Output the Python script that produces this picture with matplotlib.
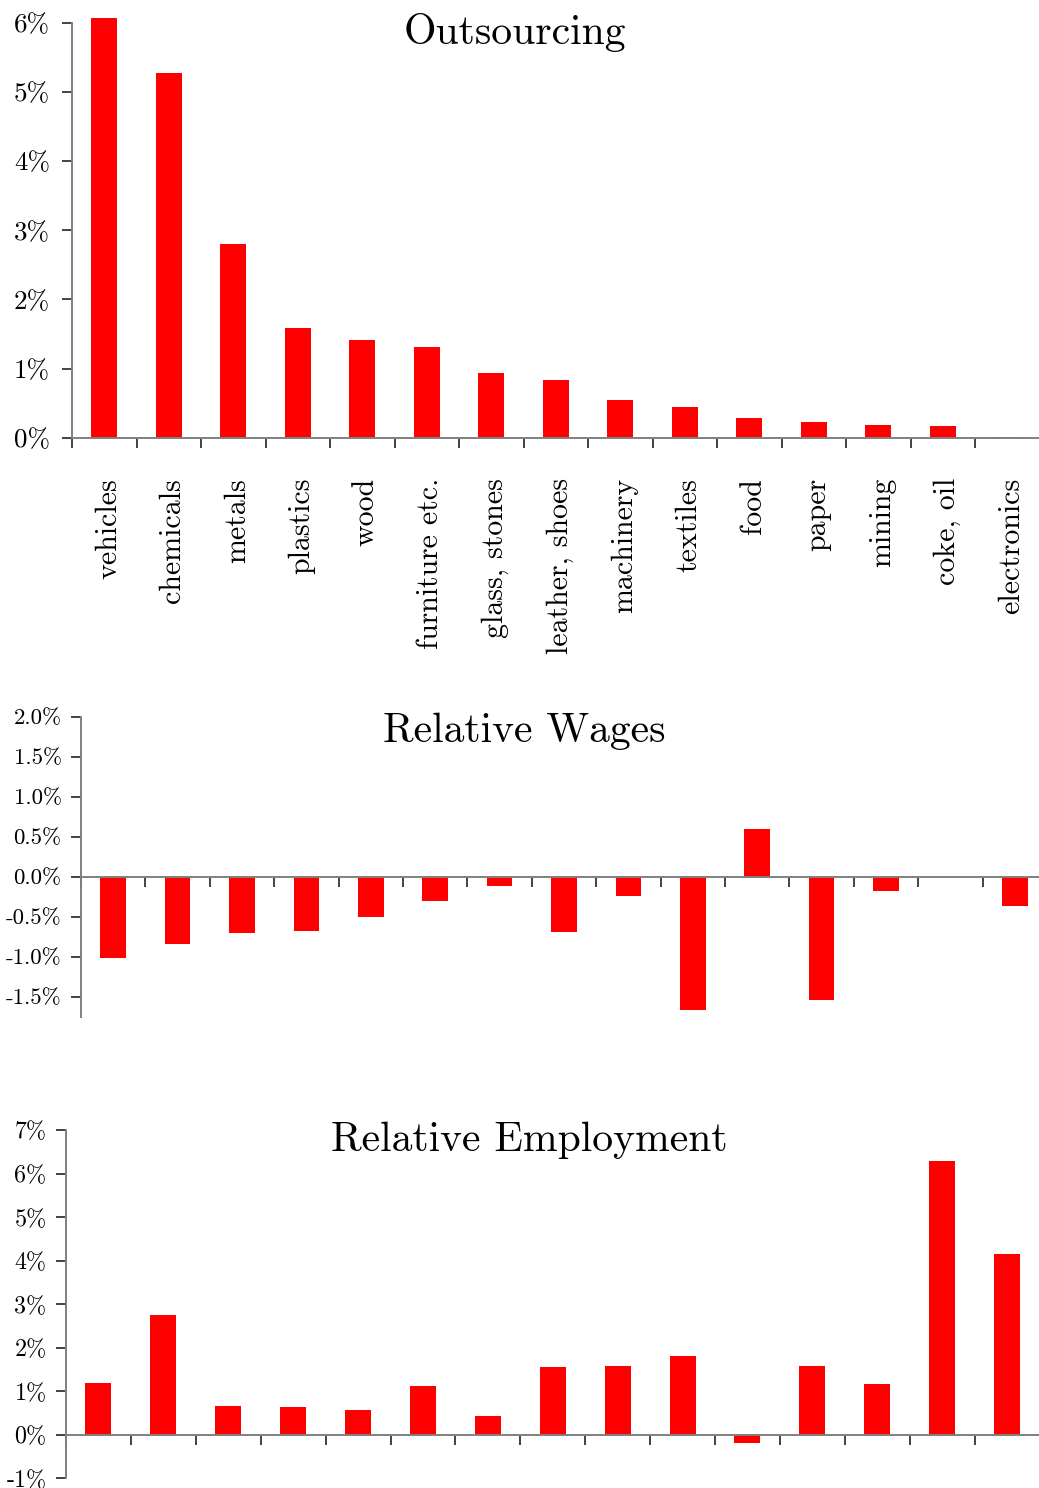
import matplotlib
matplotlib.use("Agg")
import matplotlib.pyplot as plt
import matplotlib.transforms as mtransforms
from matplotlib.ticker import FixedLocator, FuncFormatter, NullFormatter
import numpy as np

plt.rcParams['font.family'] = ['cmr10', 'DejaVu Serif']
plt.rcParams['mathtext.fontset'] = 'cm'
plt.rcParams['axes.unicode_minus'] = False

categories = ['vehicles', 'chemicals', 'metals', 'plastics', 'wood',
              'furniture etc.', 'glass, stones', 'leather, shoes', 'machinery',
              'textiles', 'food', 'paper', 'mining', 'coke, oil', 'electronics']
outsourcing = [6.07, 5.28, 2.80, 1.58, 1.41, 1.31, 0.94, 0.84, 0.55, 0.45,
               0.29, 0.22, 0.19, 0.17, 0.01]
wages = [-1.02, -0.84, -0.70, -0.675, -0.50, -0.30, -0.12, -0.69, -0.24,
         -1.67, 0.60, -1.54, -0.18, 0.0, -0.37]
employment = [1.20, 2.74, 0.66, 0.63, 0.58, 1.13, 0.42, 1.55, 1.57, 1.80,
              -0.18, 1.57, 1.16, 6.28, 4.16]

W, H = 1039, 1488
fig = plt.figure(figsize=(W / 100, H / 100), dpi=100)


def px_axes(left, top, right, bottom):
    return fig.add_axes([left / W, 1 - bottom / H, (right - left) / W, (bottom - top) / H])


def style(ax, ylim, yticks, fmt, ysize, ypad):
    n = len(categories)
    x = np.arange(n) + 0.5
    ax.set_xlim(0, n)
    ax.set_ylim(*ylim)
    for s in ['top', 'right']:
        ax.spines[s].set_visible(False)
    for s in ['left', 'bottom']:
        ax.spines[s].set_color('#808080')
        ax.spines[s].set_linewidth(1.4)
    ax.spines['bottom'].set_position(('data', 0))
    ax.xaxis.set_major_locator(FixedLocator(np.arange(n)))
    ax.xaxis.set_major_formatter(NullFormatter())
    ax.yaxis.set_major_locator(FixedLocator(yticks))
    ax.yaxis.set_major_formatter(FuncFormatter(lambda v, p: fmt % v))
    ax.tick_params(axis='both', which='major', direction='out', length=7,
                   width=1.2, color='#222222')
    ax.tick_params(axis='y', labelsize=ysize, pad=ypad)
    return x


# Outsourcing
ax1 = px_axes(72, 23, 1039.5, 437.7)
x = style(ax1, (0, 6), [0, 1, 2, 3, 4, 5, 6], '%d%%', 19.5, 9)
ax1.bar(x, outsourcing, width=0.4, color='#ff0000', clip_on=False, zorder=1)
ax1.xaxis.set_minor_locator(FixedLocator(x))
ax1.set_xticklabels(categories, minor=True, rotation=90, va='top', ha='center')
ax1.tick_params(axis='x', which='minor', length=0, labelsize=21.5, pad=29)
shift = mtransforms.ScaledTranslation(4 / 100, 0, fig.dpi_scale_trans)
for lab in ax1.get_xticklabels(minor=True):
    lab.set_transform(lab.get_transform() + shift)

# Relative Wages
ax2 = px_axes(81, 716.7, 81 + 15 * 64.4, 1016.7)
x = style(ax2, (-1.75, 2.0), [-1.5, -1.0, -0.5, 0.0, 0.5, 1.0, 1.5, 2.0], '%.1f%%', 16.5, 7)
ax2.bar(x, wages, width=0.4, color='#ff0000', zorder=1)

# Relative Employment
ax3 = px_axes(66, 1130, 1039.5, 1478.3)
x = style(ax3, (-1, 7), [-1, 0, 1, 2, 3, 4, 5, 6, 7], '%d%%', 17.3, 7)
ax3.bar(x, employment, width=0.4, color='#ff0000', zorder=1)

fig.text(515 / W, 1 - 33 / H, 'Outsourcing', fontsize=30, ha='center', va='center')
fig.text(524 / W, 1 - 731 / H, 'Relative Wages', fontsize=30, ha='center', va='center')
fig.text(529 / W, 1 - 1140 / H, 'Relative Employment', fontsize=30, ha='center', va='center')

fig.savefig('out.png', dpi=100)
